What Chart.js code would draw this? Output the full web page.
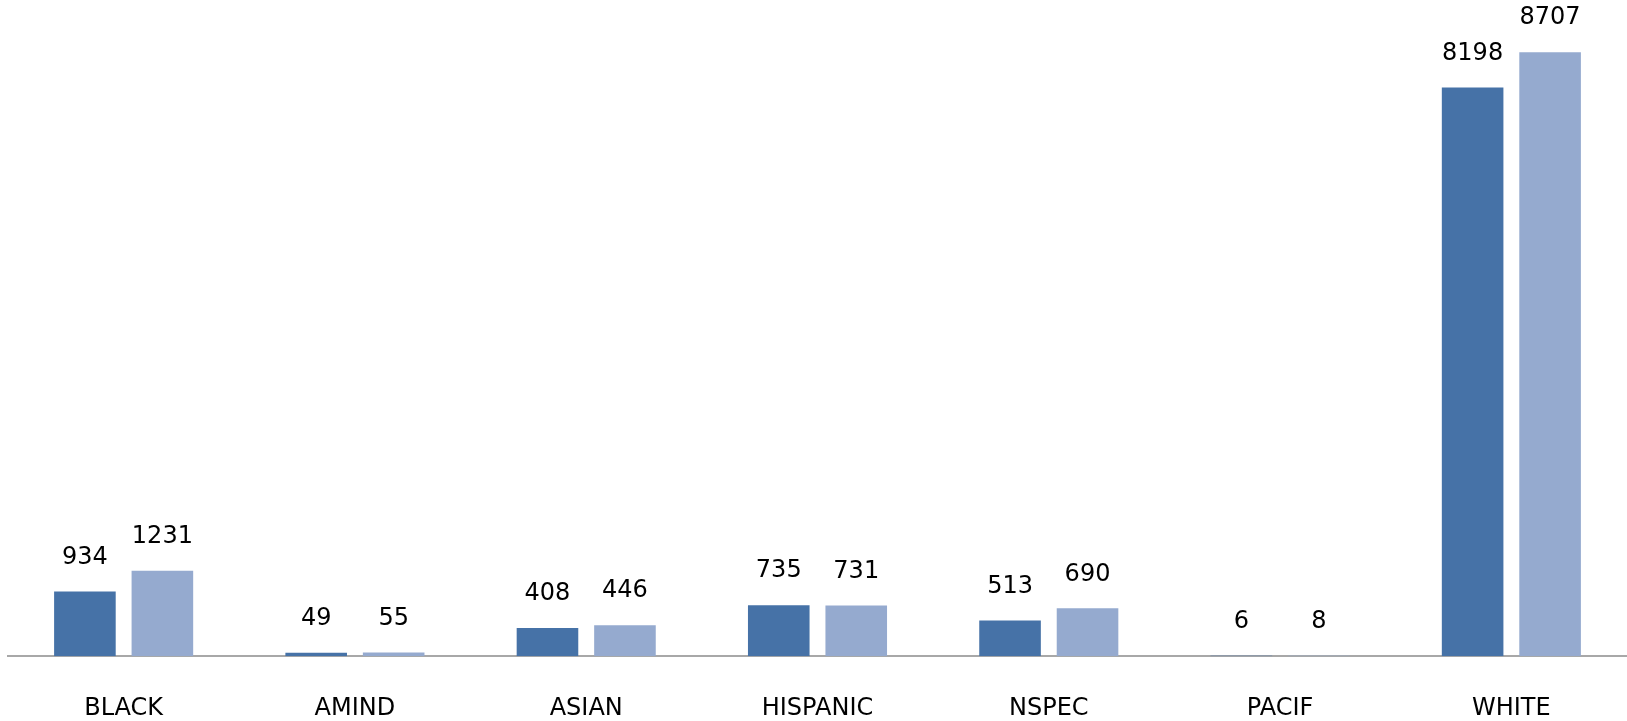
<!DOCTYPE html>
<html lang="en">
<head>
  <meta charset="UTF-8" />
  <title>Counts by group</title>
  <script src="https://cdn.jsdelivr.net/npm/chart.js"></script>
  <style>
    html, body { margin: 0; padding: 0; background: #fff; }
    #wrap { width: 1627px; height: 721px; }
  </style>
</head>
<body>
<div id="wrap"><canvas id="chart" width="1627" height="721"></canvas></div>

<script>
const categories = ['BLACK', 'AMIND', 'ASIAN', 'HISPANIC', 'NSPEC', 'PACIF', 'WHITE'];
const seriesA = [934, 49, 408, 735, 513, 6, 8198];
const seriesB = [1231, 55, 446, 731, 690, 8, 8707];

const labelFont = '24px "DejaVu Sans", sans-serif';

// draw the value above every bar
const valueLabels = {
  id: 'valueLabels',
  afterDatasetsDraw(chart) {
    const ctx = chart.ctx;
    ctx.save();
    ctx.font = labelFont;
    ctx.fillStyle = '#000';
    ctx.textAlign = 'center';
    ctx.textBaseline = 'bottom';
    chart.data.datasets.forEach((ds, i) => {
      chart.getDatasetMeta(i).data.forEach((bar, j) => {
        ctx.fillText(String(ds.data[j]), bar.x, bar.y - 22);
      });
    });
    ctx.restore();
  }
};

const chart = new Chart(document.getElementById('chart').getContext('2d'), {
  type: 'bar',
  data: {
    labels: categories,
    datasets: [
      { label: 'A', data: seriesA, backgroundColor: '#4672A7' },
      { label: 'B', data: seriesB, backgroundColor: '#95AACF' }
    ]
  },
  options: {
    responsive: false,
    animation: false,
    layout: { padding: { left: 8, right: 0, top: 0, bottom: -40 } },
    categoryPercentage: 0.67,
    barPercentage: 0.795,
    plugins: { legend: { display: false }, tooltip: { enabled: false } },
    scales: {
      x: {
        grid: { display: false, drawTicks: false },
        border: { color: '#A8A8A8', width: 2 },
        ticks: {
          color: '#000',
          font: { family: '"DejaVu Sans", sans-serif', size: 24 },
          padding: 38
        }
      },
      y: {
        display: false,
        min: 0,
        max: 9460
      }
    }
  },
  plugins: [valueLabels]
});
</script>
</body>
</html>
